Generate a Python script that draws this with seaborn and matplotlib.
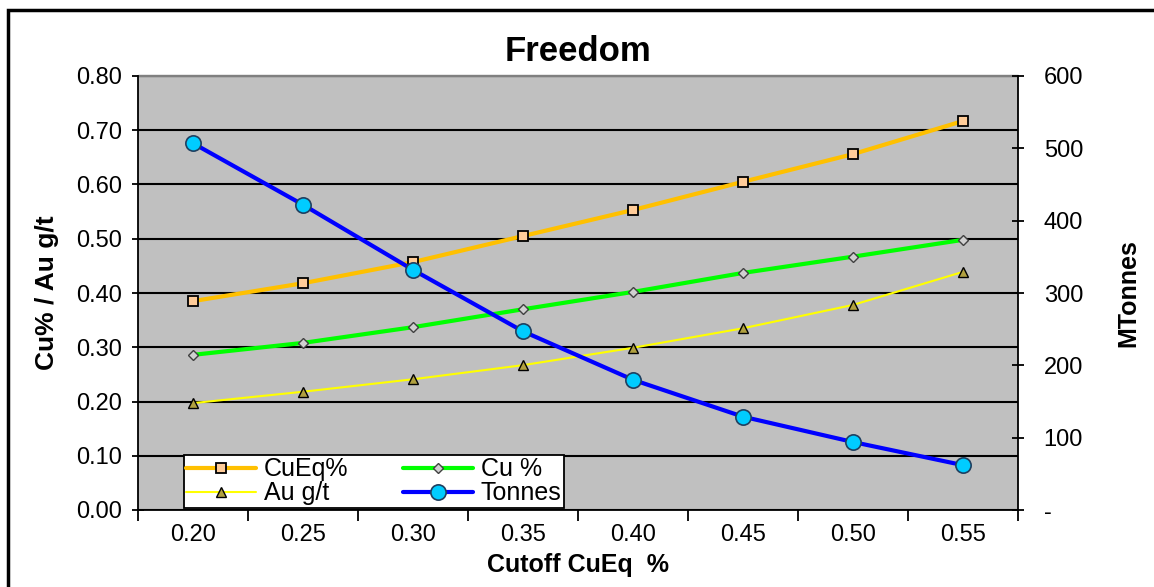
import numpy as np
import pandas as pd
import seaborn as sns
import matplotlib.pyplot as plt
from matplotlib.patches import Rectangle
from matplotlib.ticker import FuncFormatter

# datos
cutoff = ['0.20', '0.25', '0.30', '0.35', '0.40', '0.45', '0.50', '0.55']
cueq = [0.385, 0.418, 0.457, 0.505, 0.553, 0.605, 0.656, 0.717]
cu = [0.286, 0.308, 0.337, 0.370, 0.402, 0.437, 0.467, 0.498]
au = [0.197, 0.218, 0.241, 0.267, 0.299, 0.335, 0.378, 0.439]
tonnes = [507, 422, 332, 247, 180, 129, 94, 62]

df = pd.DataFrame({'pos': np.arange(len(cutoff)), 'CuEq': cueq, 'Cu': cu,
                   'Au': au, 'Tonnes': tonnes})

sns.set_style('ticks', {'text.color': 'black', 'axes.labelcolor': 'black',
                        'xtick.color': 'black', 'ytick.color': 'black',
                        'axes.edgecolor': 'black'})
plt.rcParams['font.family'] = ['Liberation Sans', 'DejaVu Sans']

fig = plt.figure(figsize=(11.54, 5.87), dpi=100)
ax = fig.add_axes([138/1154, 77/587, 880/1154, 434/587])
ax.set_facecolor('#C0C0C0')
ax2 = ax.twinx()

# lineas eje izquierdo
sns.lineplot(data=df, x='pos', y='CuEq', ax=ax, color='#FFC000', lw=3,
             marker='s', markersize=7, markerfacecolor='#FFCC99',
             markeredgecolor='black', markeredgewidth=1.3, label='CuEq%', legend=False)
sns.lineplot(data=df, x='pos', y='Cu', ax=ax, color='#00FF00', lw=3,
             marker='D', markersize=5, markerfacecolor='#D0D0D0',
             markeredgecolor='#404040', markeredgewidth=1, label='Cu %', legend=False)
sns.lineplot(data=df, x='pos', y='Au', ax=ax, color='#FFFF00', lw=1.5,
             marker='^', markersize=7, markerfacecolor='#B0A040',
             markeredgecolor='black', markeredgewidth=1, label='Au g/t', legend=False)
# tonelaje eje derecho
sns.lineplot(data=df, x='pos', y='Tonnes', ax=ax2, color='#0000FF', lw=3,
             marker='o', markersize=11, markerfacecolor='#00CCFF',
             markeredgecolor='#1F3F5F', markeredgewidth=1.2, label='Tonnes', legend=False)

ax.set_xlim(-0.5, 7.5)
ax.set_ylim(0, 0.8)
ax2.set_ylim(0, 600)
ax.set_yticks(np.arange(0, 0.81, 0.1))
ax.yaxis.set_major_formatter(FuncFormatter(lambda v, p: f'{v:.2f}'))
ax2.set_yticks(np.arange(0, 601, 100))
ax2.yaxis.set_major_formatter(FuncFormatter(lambda v, p: '-' if v == 0 else f'{v:.0f}'))
ax.grid(axis='y', color='black', lw=1.5)
ax.set_axisbelow(True)

ax.set_xticks(np.arange(-0.5, 7.6, 1))
ax.set_xticklabels([])
ax.set_xticks(np.arange(len(cutoff)), minor=True)
ax.set_xticklabels(cutoff, minor=True)
ax.tick_params(axis='x', which='minor', length=0, labelsize=17, pad=10)
ax.tick_params(axis='x', which='major', length=8, width=1.3, direction='out')
ax.tick_params(axis='y', length=9, width=1.3, direction='inout', labelsize=17, pad=7)
ax2.tick_params(axis='y', length=9, width=1.3, direction='inout', labelsize=17, pad=14)

for a in (ax, ax2):
    for s in a.spines.values():
        s.set_visible(False)
ax.spines['left'].set_visible(True)
ax.spines['bottom'].set_visible(True)
ax2.spines['right'].set_visible(True)
ax.spines['left'].set_linewidth(1.3)
ax.spines['bottom'].set_linewidth(1.3)
ax2.spines['right'].set_linewidth(1.3)
ax.add_patch(Rectangle((0, 1), 1, 0.002, transform=ax.transAxes, color='#808080', clip_on=False))

ax.set_title('Freedom', fontsize=25, fontweight='bold', pad=11)
ax.set_xlabel('Cutoff CuEq  %', fontsize=18, fontweight='bold', labelpad=5)
ax.set_ylabel('Cu% / Au g/t', fontsize=19, fontweight='bold', labelpad=12)
ax2.set_ylabel('MTonnes', fontsize=18, fontweight='bold', labelpad=24)

h1, l1 = ax.get_legend_handles_labels()
h2, l2 = ax2.get_legend_handles_labels()
# orden por columnas: CuEq, Au | Cu, Tonnes
handles = [h1[0], h1[2], h1[1], h2[0]]
labels = [l1[0], l1[2], l1[1], l2[0]]
leg = ax2.legend(handles, labels, ncol=2, loc='lower left',
                 bbox_to_anchor=(0.052, 0.005), fontsize=18, frameon=True,
                 fancybox=False, edgecolor='black', framealpha=1,
                 borderaxespad=0, labelspacing=0.0, handlelength=2.8,
                 columnspacing=2.2, borderpad=0.1, handletextpad=0.3)
leg.get_frame().set_linewidth(1.3)

fig.patches.append(Rectangle((8/1154, -0.1), 2, 1.1 - 10/587, transform=fig.transFigure,
                             fill=False, edgecolor='black', lw=2.5))

fig.savefig('out.png', dpi=100)
